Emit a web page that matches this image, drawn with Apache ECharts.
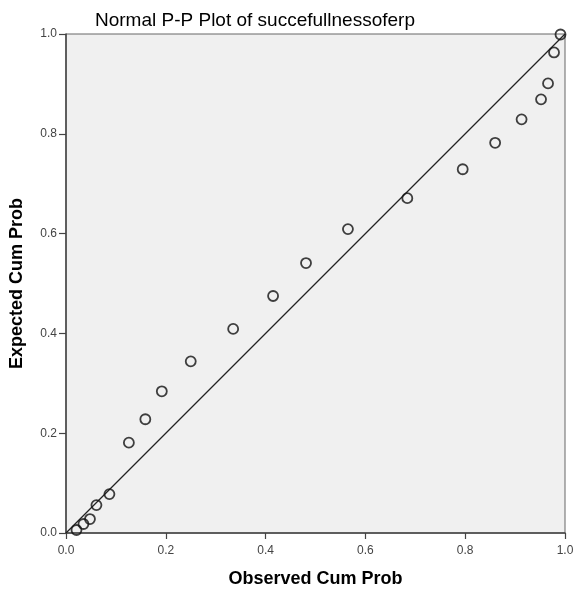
<!DOCTYPE html>
<html><head><meta charset="utf-8">
<script src="https://cdn.jsdelivr.net/npm/echarts@6/dist/echarts.min.js"></script>
<style>html,body{margin:0;padding:0;background:#fff}#c{width:576px;height:590px}</style>
</head><body><div id="c"></div>
<script>
var observed = [0.021,0.035,0.048,0.061,0.087,0.126,0.159,0.192,0.250,0.335,0.415,0.481,0.565,0.684,0.795,0.860,0.913,0.952,0.966,0.978,0.991];
var expected = [0.006,0.018,0.028,0.056,0.078,0.181,0.228,0.284,0.344,0.409,0.475,0.541,0.609,0.671,0.729,0.782,0.829,0.869,0.901,0.963,0.999];
var refLine = [[0,0],[1,1]];
var tickLabels = ['0.0','0.2','0.4','0.6','0.8','1.0'];
var titleText = 'Normal P-P Plot of succefullnessoferp';
var xName = 'Observed Cum Prob', yName = 'Expected Cum Prob';

var pts = observed.map(function(v,i){return [v, expected[i]];});
var chart = echarts.init(document.getElementById('c'), null, {renderer:'canvas'});
function fmt(v){ return tickLabels[Math.round(v*5)]; }
chart.setOption({
  animation:false,
  title:{text:titleText, left:90, top:6,
    textStyle:{fontFamily:'Liberation Sans', fontSize:19, fontWeight:'normal', color:'#000'}},
  grid:{left:66, right:11, top:34, bottom:57, outerBoundsMode:'none', containLabel:false,
    show:true, backgroundColor:'#f0f0f0', borderColor:'#666', borderWidth:1},
  xAxis:{type:'value', min:0, max:1, interval:0.2, name:xName, nameLocation:'middle', nameGap:37,
    nameTextStyle:{fontFamily:'Liberation Sans', fontSize:18, fontWeight:'bold', color:'#000', verticalAlign:'top'},
    axisLine:{show:true, lineStyle:{color:'#444', width:1.5}},
    axisTick:{show:true, length:6, lineStyle:{color:'#444', width:1.2}},
    axisLabel:{formatter:fmt, fontFamily:'Liberation Sans', fontSize:12, color:'#444', margin:12},
    splitLine:{show:false}},
  yAxis:{type:'value', min:0, max:1, interval:0.2, name:yName, nameLocation:'middle', nameGap:40,
    nameTextStyle:{fontFamily:'Liberation Sans', fontSize:18, fontWeight:'bold', color:'#000'},
    axisLine:{show:true, lineStyle:{color:'#444', width:1.5}},
    axisTick:{show:true, length:7, lineStyle:{color:'#444', width:1.2}},
    axisLabel:{formatter:fmt, fontFamily:'Liberation Sans', fontSize:12, color:'#444', margin:9},
    splitLine:{show:false}},
  series:[
    {type:'line', data:refLine, symbol:'none', lineStyle:{color:'#222', width:1.3}, silent:true, z:2},
    {type:'scatter', data:pts, symbol:'circle', symbolSize:10,
     itemStyle:{color:'rgba(0,0,0,0)', borderColor:'#111', borderWidth:1.8}, z:3}
  ]
});
</script></body></html>
